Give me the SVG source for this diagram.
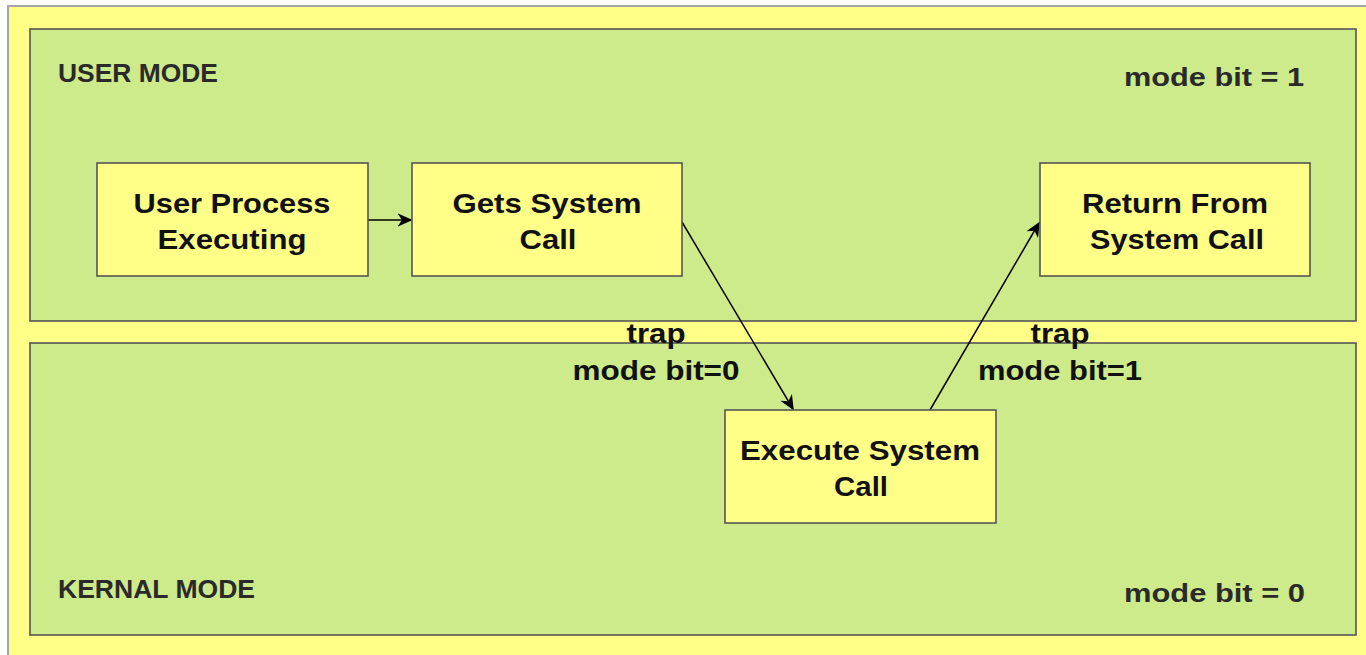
<svg xmlns="http://www.w3.org/2000/svg" width="1366" height="655" viewBox="0 0 1366 655">
<defs>
<style>
.bg{fill:#ffff88;stroke:#a6a6a6;stroke-width:2}
.panel{fill:#cdeb8b;stroke:#555;stroke-width:1.6}
.box{fill:#ffff88;stroke:#555;stroke-width:1.6}
.t{font-family:"Liberation Sans",Arial,sans-serif;font-weight:bold;font-size:28px;fill:#111}
.lbl{font-family:"Liberation Sans",Arial,sans-serif;font-weight:bold;font-size:26px;fill:#2a2a2a}
.edge{stroke:#000;stroke-width:1.5;fill:none}
</style>
<marker id="arr" viewBox="0 0 10 10" refX="9" refY="5" markerWidth="15" markerHeight="15" markerUnits="userSpaceOnUse" orient="auto">
<path d="M0,0.5 L10,5 L0,9.5 L3,5 z" fill="#000"/>
</marker>
</defs>
<rect x="8" y="6" width="1370" height="660" class="bg"/>
<g id="user-mode">
<rect x="30" y="29" width="1326" height="292" class="panel"/>
<text x="58" y="82" class="lbl" textLength="160" lengthAdjust="spacingAndGlyphs">USER MODE</text>
<text x="1124" y="86" class="lbl" textLength="180" lengthAdjust="spacingAndGlyphs">mode bit = 1</text>
</g>
<g id="kernel-mode">
<rect x="30" y="343" width="1326" height="292" class="panel"/>
<text x="58" y="598" class="lbl" textLength="197" lengthAdjust="spacingAndGlyphs">KERNAL MODE</text>
<text x="1124" y="602" class="lbl" textLength="181" lengthAdjust="spacingAndGlyphs">mode bit = 0</text>
</g>
<g id="connectors">
<line x1="368" y1="220" x2="411" y2="220" class="edge" marker-end="url(#arr)"/>
<line x1="682" y1="222" x2="793" y2="409" class="edge" marker-end="url(#arr)"/>
<line x1="930" y1="410" x2="1039" y2="223" class="edge" marker-end="url(#arr)"/>
<g text-anchor="middle">
<text x="656" y="343" class="t" textLength="59" lengthAdjust="spacingAndGlyphs">trap</text>
<text x="656" y="380" class="t" textLength="167" lengthAdjust="spacingAndGlyphs">mode bit=0</text>
<text x="1060" y="343" class="t" textLength="59" lengthAdjust="spacingAndGlyphs">trap</text>
<text x="1060" y="380" class="t" textLength="164" lengthAdjust="spacingAndGlyphs">mode bit=1</text>
</g>
</g>
<g id="user-process" text-anchor="middle">
<rect x="97" y="163" width="271" height="113" class="box"/>
<text x="232" y="213" class="t" textLength="197" lengthAdjust="spacingAndGlyphs">User Process</text>
<text x="232" y="249" class="t" textLength="149" lengthAdjust="spacingAndGlyphs">Executing</text>
</g>
<g id="gets-system-call" text-anchor="middle">
<rect x="412" y="163" width="270" height="113" class="box"/>
<text x="547" y="213" class="t" textLength="189" lengthAdjust="spacingAndGlyphs">Gets System</text>
<text x="548" y="249" class="t" textLength="57" lengthAdjust="spacingAndGlyphs">Call</text>
</g>
<g id="return-from-system-call" text-anchor="middle">
<rect x="1040" y="163" width="270" height="113" class="box"/>
<text x="1175" y="213" class="t" textLength="186" lengthAdjust="spacingAndGlyphs">Return From</text>
<text x="1177" y="249" class="t" textLength="174" lengthAdjust="spacingAndGlyphs">System Call</text>
</g>
<g id="execute-system-call" text-anchor="middle">
<rect x="725" y="410" width="271" height="113" class="box"/>
<text x="860" y="460" class="t" textLength="240" lengthAdjust="spacingAndGlyphs">Execute System</text>
<text x="861" y="496" class="t" textLength="54" lengthAdjust="spacingAndGlyphs">Call</text>
</g>
</svg>
